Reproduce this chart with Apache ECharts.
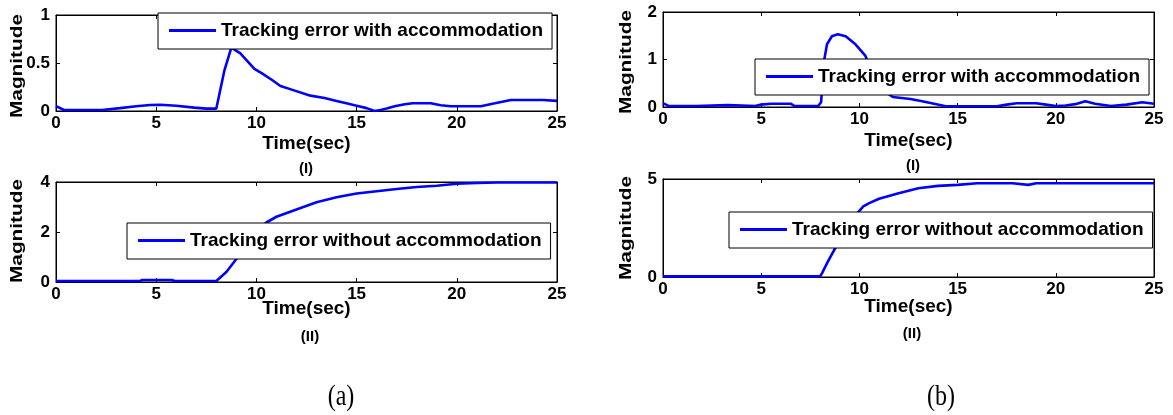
<!DOCTYPE html>
<html>
<head>
<meta charset="utf-8">
<script src="https://cdn.jsdelivr.net/npm/echarts@6/dist/echarts.min.js"></script>
<style>
  html, body { margin: 0; padding: 0; background: #fff; }
  #chart { width: 1173px; height: 415px; }
</style>
</head>
<body>
<div id="chart"></div>
<script>
// ---- data: tracking error magnitude vs. time (sec) ----
const timeTicks = [0, 5, 10, 15, 20, 25];

// (a)(I) tracking error with accommodation
const tWithA = [0, 0.4, 1, 2.3, 3.2, 4, 4.7, 5.2, 6, 6.9, 7.5, 8.0, 8.4, 8.75, 9.2, 9.9, 10.3, 10.8, 11.2, 11.8, 12.7, 13.4, 14, 14.6, 15.0, 15.5, 15.9, 16.2, 16.5, 16.9, 17.4, 17.8, 18.7, 19.2, 19.7, 20.5, 21.2, 21.9, 22.7, 23.5, 24.3, 25];
const eWithA = [0.05, 0.01, 0.01, 0.01, 0.03, 0.05, 0.063, 0.065, 0.055, 0.035, 0.025, 0.025, 0.42, 0.66, 0.6, 0.44, 0.39, 0.32, 0.26, 0.22, 0.16, 0.135, 0.105, 0.075, 0.055, 0.03, 0.0, 0.01, 0.025, 0.05, 0.07, 0.08, 0.08, 0.06, 0.05, 0.05, 0.05, 0.08, 0.115, 0.115, 0.115, 0.105];

// (a)(II) tracking error without accommodation
const tWithoutA = [0, 4.2, 4.3, 5.8, 5.9, 8.0, 8.5, 9.0, 9.3, 9.6, 10.0, 10.2, 10.5, 11, 12, 13, 14, 15, 16, 17, 18, 19, 20, 21, 22, 25];
const eWithoutA = [0.04, 0.04, 0.08, 0.08, 0.04, 0.04, 0.4, 0.92, 1.29, 1.65, 2.05, 2.24, 2.38, 2.61, 2.9, 3.19, 3.39, 3.54, 3.63, 3.72, 3.8, 3.85, 3.93, 3.96, 3.98, 3.98];

// (b)(I) tracking error with accommodation
const tWithB = [0, 0.3, 1.7, 1.8, 3.3, 3.4, 4.7, 5.0, 5.5, 6.5, 6.7, 7.9, 8.05, 8.2, 8.35, 8.6, 8.9, 9.3, 9.8, 10.3, 10.6, 11.0, 11.3, 11.7, 12.6, 13.2, 13.8, 14.4, 17.0, 17.5, 18.0, 19.0, 19.5, 20.0, 20.5, 21.0, 21.5, 22.0, 22.8, 23.6, 24.4, 25];
const eWithB = [0.08, 0.02, 0.02, 0.04, 0.04, 0.02, 0.02, 0.05, 0.07, 0.07, 0.02, 0.02, 0.1, 0.97, 1.32, 1.49, 1.53, 1.49, 1.32, 1.08, 0.8, 0.5, 0.33, 0.21, 0.17, 0.12, 0.07, 0.015, 0.015, 0.05, 0.08, 0.08, 0.05, 0.02, 0.03, 0.06, 0.12, 0.07, 0.02, 0.05, 0.1, 0.07];

// (b)(II) tracking error without accommodation
const tWithoutB = [0, 8.0, 8.1, 8.4, 8.7, 9.0, 9.3, 9.6, 9.9, 10.2, 10.5, 11, 12, 13, 14, 15, 16, 17, 17.8, 17.9, 18.6, 18.7, 19, 25];
const eWithoutB = [0.03, 0.03, 0.2, 0.8, 1.35, 1.85, 2.35, 2.8, 3.26, 3.6, 3.77, 3.99, 4.27, 4.53, 4.65, 4.7, 4.78, 4.78, 4.78, 4.7, 4.7, 4.78, 4.78, 4.78];

// y tick labels of each panel
const yTicksWithA = [0, 0.5, 1];
const yTicksWithoutA = [0, 2, 4];
const yTicksWithB = [0, 1, 2];
const yTicksWithoutB = [0, 5];

const nameWith = 'Tracking error with accommodation';
const nameWithout = 'Tracking error without accommodation';

// ---- layout ----
const SANS = "'Liberation Sans', Arial, Helvetica, sans-serif";
const SERIF = "'Liberation Serif', 'Times New Roman', Times, serif";
const BLUE = '#0000ff';

const panels = [
  { t: tWithA, e: eWithA, yTicks: yTicksWithA, name: nameWith,
    grid: { left: 56, top: 15, width: 501, height: 96 },
    legend: { left: 158, top: 13, textW: 322 }, timeGap: 23,
    mag: [18, 66], sub: '(I)', subPos: [306, 169] },
  { t: tWithB, e: eWithB, yTicks: yTicksWithB, name: nameWith,
    grid: { left: 663, top: 12, width: 491, height: 95 },
    legend: { left: 755, top: 59, textW: 322 }, timeGap: 24,
    mag: [627, 62], sub: '(I)', subPos: [913, 166] },
  { t: tWithoutA, e: eWithoutA, yTicks: yTicksWithoutA, name: nameWithout,
    grid: { left: 56, top: 182, width: 501, height: 100 },
    legend: { left: 127, top: 223, textW: 352 }, timeGap: 17,
    mag: [18, 231], sub: '(II)', subPos: [310, 337] },
  { t: tWithoutB, e: eWithoutB, yTicks: yTicksWithoutB, name: nameWithout,
    grid: { left: 663, top: 179, width: 491, height: 98 },
    legend: { left: 729, top: 212, textW: 350 }, timeGap: 20,
    mag: [627, 228], sub: '(II)', subPos: [912, 334] }
];

const tickLabel = { color: '#000', fontFamily: SANS, fontWeight: 'bold', fontSize: 17 };

const grids = [], xAxes = [], yAxes = [], series = [], legends = [], graphics = [];

panels.forEach((p, i) => {
  grids.push(Object.assign({ show: true, borderColor: '#000', borderWidth: 1, backgroundColor: '#fff' }, p.grid));

  const tMin = timeTicks[0], tMax = timeTicks[timeTicks.length - 1];
  const tStep = timeTicks[1] - timeTicks[0];
  const yMin = p.yTicks[0], yMax = p.yTicks[p.yTicks.length - 1];
  const yStep = p.yTicks[1] - p.yTicks[0];

  const common = {
    gridIndex: i, type: 'value',
    axisLine: { show: true, onZero: false, lineStyle: { color: '#000', width: 1 } },
    axisTick: { show: true, inside: true, length: 4, lineStyle: { color: '#000', width: 1 } },
    splitLine: { show: false }
  };

  xAxes.push(Object.assign({}, common, {
    position: 'bottom', min: tMin, max: tMax, interval: tStep,
    axisLabel: Object.assign({ margin: 4, showMinLabel: true, showMaxLabel: true }, tickLabel),
    name: 'Time(sec)', nameLocation: 'middle', nameGap: p.timeGap, nameMoveOverlap: false,
    nameTextStyle: { color: '#000', fontFamily: SANS, fontWeight: 'bold', fontSize: 19 }
  }));
  xAxes.push(Object.assign({}, common, {
    position: 'top', min: tMin, max: tMax, interval: tStep, axisLabel: { show: false }
  }));
  yAxes.push(Object.assign({}, common, {
    position: 'left', min: yMin, max: yMax, interval: yStep,
    axisLabel: Object.assign({ margin: 6, showMinLabel: true, showMaxLabel: true }, tickLabel)
  }));
  yAxes.push(Object.assign({}, common, {
    position: 'right', min: yMin, max: yMax, interval: yStep, axisLabel: { show: false }
  }));

  series.push({
    type: 'line', name: p.name,
    xAxisIndex: i * 2, yAxisIndex: i * 2,
    data: p.t.map((x, k) => [x, p.e[k]]),
    symbol: 'none', smooth: false,
    lineStyle: { color: BLUE, width: 2.6 },
    itemStyle: { color: BLUE },
    z: 2
  });

  legends.push({
    data: [{ name: p.name, icon: 'rect' }], left: p.legend.left, top: p.legend.top,
    orient: 'horizontal', selectedMode: false,
    backgroundColor: '#fff', borderColor: '#000', borderWidth: 1,
    padding: [8, 9, 9, 11], itemWidth: 47, itemHeight: 3,
    textStyle: { color: '#000', fontFamily: SANS, fontWeight: 'bold', fontSize: 19,
                 width: p.legend.textW, overflow: 'none' },
    z: 5
  });

  // rotated y-axis title
  graphics.push({
    type: 'text', x: p.mag[0], y: p.mag[1], rotation: Math.PI / 2, scaleX: 1.3,
    style: { text: 'Magnitude', fill: '#000', font: 'bold 16px ' + SANS,
             textAlign: 'center', textVerticalAlign: 'middle', align: 'center', verticalAlign: 'middle' }
  });
  // sub-panel caption
  graphics.push({
    type: 'text', x: p.subPos[0], y: p.subPos[1],
    style: { text: p.sub, fill: '#000', font: 'bold 15px ' + SANS,
             textAlign: 'center', textVerticalAlign: 'middle', align: 'center', verticalAlign: 'middle' }
  });
});

// figure captions
[['(a)', 341], ['(b)', 941]].forEach(([txt, x]) => {
  graphics.push({
    type: 'text', x: x, y: 397, scaleY: 1.25,
    style: { text: txt, fill: '#000', font: '24px ' + SERIF,
             textAlign: 'center', textVerticalAlign: 'middle', align: 'center', verticalAlign: 'middle' }
  });
});

const chart = echarts.init(document.getElementById('chart'), null, { renderer: 'canvas' });
chart.setOption({
  animation: false,
  backgroundColor: '#fff',
  grid: grids,
  xAxis: xAxes,
  yAxis: yAxes,
  legend: legends,
  series: series,
  graphic: graphics
});
</script>
</body>
</html>
